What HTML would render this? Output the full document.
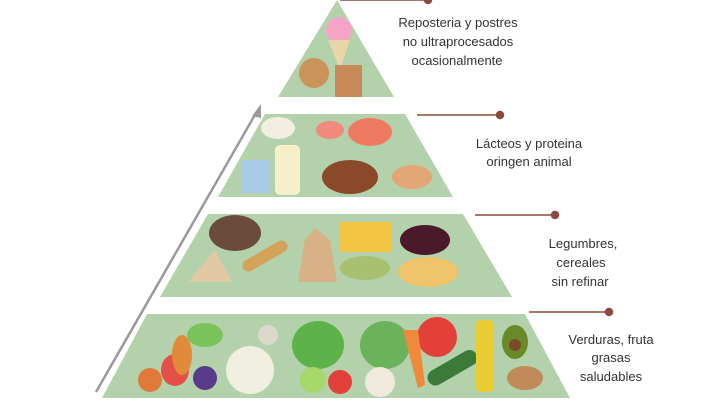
<!DOCTYPE html>
<html><head><meta charset="utf-8"><style>
html,body{margin:0;padding:0;background:#fff;}
svg{display:block}
text{font-family:"Liberation Sans",sans-serif;font-size:13px;fill:#333;text-anchor:middle}
</style></head><body>
<svg width="723" height="407" viewBox="0 0 723 407">
<g fill="#b3d2ab">
<polygon points="337,0 394,97 278,97"/>
<polygon points="265,114 405,114 453,197 218,197"/>
<polygon points="208,214 463,214 512,297 160,297"/>
<polygon points="147,314 525,314 570,398 102,398"/>
</g>
<!-- arrow -->
<line x1="96" y1="392" x2="256" y2="113" stroke="#9a9a9a" stroke-width="2.5"/>
<polygon points="261,104 252,116 261,118" fill="#9a9a9a"/>
<!-- connectors -->
<g stroke="#8b4a3e" stroke-width="1.5" fill="#8b4a3e">
<line x1="340" y1="0" x2="428" y2="0"/><circle cx="428" cy="0" r="3.5"/>
<line x1="417" y1="115" x2="500" y2="115"/><circle cx="500" cy="115" r="3.5"/>
<line x1="475" y1="215" x2="555" y2="215"/><circle cx="555" cy="215" r="3.5"/>
<line x1="529" y1="312" x2="609" y2="312"/><circle cx="609" cy="312" r="3.5"/>
</g>
<!-- food: tier1 -->
<circle cx="339" cy="30" r="13" fill="#f5a3c7"/>
<polygon points="328,40 350,40 340,70" fill="#e8d6a8"/>
<circle cx="314" cy="73" r="15" fill="#c9935a"/>
<rect x="335" y="65" width="27" height="32" fill="#c98a5a"/>
<!-- tier2 -->
<ellipse cx="278" cy="128" rx="17" ry="11" fill="#f2efe0"/>
<ellipse cx="330" cy="130" rx="14" ry="9" fill="#f08a7a"/>
<ellipse cx="370" cy="132" rx="22" ry="14" fill="#ee7a62"/>
<rect x="242" y="160" width="27" height="33" fill="#a8cbe6"/>
<rect x="275" y="145" width="25" height="50" rx="5" fill="#f5f0c8"/>
<ellipse cx="350" cy="177" rx="28" ry="17" fill="#8a4a2a"/>
<ellipse cx="412" cy="177" rx="20" ry="12" fill="#e3a676"/>
<!-- tier3 -->
<ellipse cx="235" cy="233" rx="26" ry="18" fill="#6b4c3c"/>
<polygon points="188,282 215,250 232,282" fill="#e2c9a3"/>
<rect x="240" y="250" width="50" height="12" rx="6" transform="rotate(-30 265 256)" fill="#d3a35a"/>
<polygon points="298,282 305,240 315,228 330,240 337,282" fill="#d8b186"/>
<rect x="340" y="222" width="52" height="30" fill="#f5c642"/>
<ellipse cx="365" cy="268" rx="25" ry="12" fill="#a9c070"/>
<ellipse cx="425" cy="240" rx="25" ry="15" fill="#4a1a2a"/>
<ellipse cx="428" cy="272" rx="30" ry="15" fill="#f0c46a"/>
<!-- tier4 -->
<circle cx="150" cy="380" r="12" fill="#e07a3a"/>
<ellipse cx="175" cy="370" rx="14" ry="16" fill="#e3504a"/>
<ellipse cx="182" cy="355" rx="10" ry="20" fill="#e08a3a"/>
<ellipse cx="205" cy="335" rx="18" ry="12" fill="#7ac35a"/>
<circle cx="205" cy="378" r="12" fill="#5a3a8a"/>
<circle cx="250" cy="370" r="24" fill="#f1efe0"/>
<circle cx="268" cy="335" r="10" fill="#ddd8cc"/>
<ellipse cx="318" cy="345" rx="26" ry="24" fill="#5db34a"/>
<circle cx="313" cy="380" r="13" fill="#a6d86a"/>
<circle cx="340" cy="382" r="12" fill="#e3403a"/>
<ellipse cx="385" cy="345" rx="25" ry="24" fill="#6ab35a"/>
<circle cx="380" cy="382" r="15" fill="#f0eadc"/>
<circle cx="437" cy="337" r="20" fill="#e3403a"/>
<polygon points="403,330 418,330 425,385 418,388" fill="#f08a3a"/>
<rect x="425" y="360" width="55" height="16" rx="8" transform="rotate(-30 452 368)" fill="#3c7a3a"/>
<rect x="476" y="320" width="17" height="72" rx="4" fill="#e8cc32"/>
<ellipse cx="515" cy="342" rx="13" ry="17" fill="#6a8a2a"/>
<circle cx="515" cy="345" r="6" fill="#7a4a2a"/>
<ellipse cx="525" cy="378" rx="18" ry="12" fill="#c08a5a"/>
<!-- labels -->
<text x="458" y="27">Reposteria y postres</text>
<text x="458" y="46">no ultraprocesados</text>
<text x="457" y="65">ocasionalmente</text>
<text x="529" y="148">Lácteos y proteina</text>
<text x="529" y="166">oringen animal</text>
<text x="583" y="248">Legumbres,</text>
<text x="581" y="267">cereales</text>
<text x="580" y="286">sin refinar</text>
<text x="611" y="344">Verduras, fruta</text>
<text x="611" y="362">grasas</text>
<text x="611" y="381">saludables</text>
</svg>
</body></html>
